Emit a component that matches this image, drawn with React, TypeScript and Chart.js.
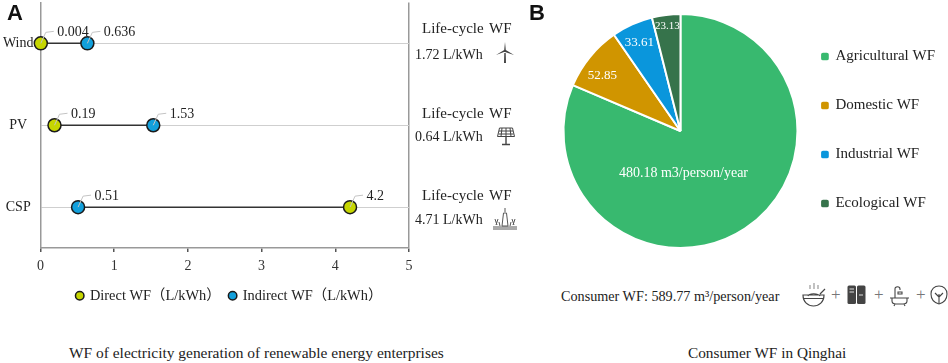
import React, { useEffect, useRef } from "react";
import { Chart, registerables } from "chart.js";

Chart.register(...registerables);

const SERIF = '"Liberation Serif", serif';

const energyTypes = ["Wind", "PV", "CSP"];
const directWF = [0.004, 0.19, 4.2];
const indirectWF = [0.636, 1.53, 0.51];
const xTicks = [0, 1, 2, 3, 4, 5];

const lifeCycleValues = ["1.72 L/kWh", "0.64 L/kWh", "4.71 L/kWh"];

const consumerCategories = ["Agricultural WF", "Domestic WF", "Industrial WF", "Ecological WF"];
const consumerValues = [480.18, 52.85, 33.61, 23.13];
const consumerLabels = ["480.18 m3/person/year", "52.85", "33.61", "23.13"];
const consumerColors = ["#38B96F", "#D09500", "#0A96DC", "#36734B"];

const labelPlacement = [
  { dx: 3, dy: 42, size: 14 },
  { dx: -78, dy: -55, size: 13 },
  { dx: -41, dy: -88, size: 13 },
  { dx: -13, dy: -105, size: 11 },
];

const dumbbellLabels = {
  id: "dumbbellLabels",
  afterDatasetsDraw(chart: any) {
    const { ctx, scales } = chart;
    const draw = (value: number, cat: string) => {
      const px = scales.x.getPixelForValue(value);
      const py = scales.y.getPixelForValue(energyTypes.indexOf(cat));
      ctx.save();
      ctx.strokeStyle = "#c4c4c4";
      ctx.lineWidth = 1;
      ctx.beginPath();
      ctx.moveTo(px, py);
      ctx.lineTo(px + 5, py - 11);
      ctx.lineTo(px + 13, py - 12);
      ctx.stroke();
      ctx.fillStyle = "#222";
      ctx.font = `14px ${SERIF}`;
      ctx.textBaseline = "middle";
      ctx.fillText(String(value), px + 16.5, py - 11);
      ctx.restore();
    };
    energyTypes.forEach((c, i) => {
      draw(directWF[i], c);
      draw(indirectWF[i], c);
    });
  },
};

const pieLabels = {
  id: "pieLabels",
  afterDatasetsDraw(chart: any) {
    const { ctx } = chart;
    const arcs = chart.getDatasetMeta(0).data;
    arcs.forEach((arc: any, i: number) => {
      const p = labelPlacement[i];
      ctx.save();
      ctx.fillStyle = "#fff";
      ctx.font = `${p.size}px ${SERIF}`;
      ctx.textAlign = "center";
      ctx.textBaseline = "middle";
      ctx.fillText(consumerLabels[i], arc.x + p.dx, arc.y + p.dy);
      ctx.restore();
    });
  },
};

const legendNudgeB = {
  id: "legendNudgeB",
  afterLayout(chart: any) {
    chart.legend.top -= 1;
    chart.legend.bottom -= 1;
  },
};

const legendNudgeA = {
  id: "legendNudgeA",
  afterLayout(chart: any) {
    chart.legend.left += 25;
    chart.legend.right += 25;
  },
};

const txt = (left: number, top: number, s: React.ReactNode, size = 15, extra: React.CSSProperties = {}) => (
  <div
    style={{
      position: "absolute",
      left,
      top,
      fontFamily: SERIF,
      fontSize: size,
      lineHeight: "18px",
      color: "#222",
      whiteSpace: "nowrap",
      ...extra,
    }}
  >
    {s}
  </div>
);

const Turbine = ({ x, y }: { x: number; y: number }) => (
  <svg style={{ position: "absolute", left: x, top: y }} width="20" height="24" viewBox="0 0 20 24">
    <path d="M10 0 L10.8 8 L19 13 L10 10 L9 10 L1 13 L9.2 8 Z" fill="#444" />
    <path d="M9.3 11 H10.7 L11 21 H9 Z" fill="#444" />
  </svg>
);

const Panel = ({ x, y }: { x: number; y: number }) => (
  <svg style={{ position: "absolute", left: x, top: y }} width="20" height="20" viewBox="0 0 20 20" fill="none" stroke="#444">
    <path d="M3.5 1 H16.5 L18.5 9.5 H1.5 Z" />
    <path d="M6 1 L5 9.5 M10 1 V9.5 M14 1 L15 9.5 M3 4 H17 M2.5 7 H17.5" />
    <path d="M10 10 V17 M6 17.5 H14" strokeWidth="1.4" />
  </svg>
);

const Tower = ({ x, y }: { x: number; y: number }) => (
  <svg style={{ position: "absolute", left: x, top: y }} width="24" height="22" viewBox="0 0 24 22" fill="none" stroke="#555">
    <path d="M12 0 V4 M10.5 5 H13.5 L15 18 H9 Z" />
    <path d="M0 19 H24 M0 21 H24" />
    <path d="M2 11 L4 17 M5 11 L3 17 M19 11 L21 17 M22 11 L20 17 M6 14 L7 18 M18 14 L17 18" />
  </svg>
);

const Bowl = ({ x, y }: { x: number; y: number }) => (
  <svg style={{ position: "absolute", left: x, top: y }} width="24" height="28" viewBox="0 0 24 28" fill="none" stroke="#444" strokeWidth="1.2">
    <path d="M1 14 H22 C22 21 17 25 11.5 25 C6 25 1 21 1 14 Z M6 15 C7 12 16 12 18 15 M1.5 17.5 H21.5 M18 13 L23 8" />
    <path d="M8 4 V8 M12 2 V8 M16 4 V8" stroke="#999" />
  </svg>
);

const Fridge = ({ x, y }: { x: number; y: number }) => (
  <svg style={{ position: "absolute", left: x, top: y }} width="20" height="20" viewBox="0 0 20 20">
    <rect x="0.5" y="0.5" width="8.5" height="18.5" rx="1.5" fill="#444" />
    <rect x="10" y="0.5" width="8.5" height="18.5" rx="1.5" fill="#444" />
    <path d="M2.5 4 H7 M2.5 7 H7 M12 10 H16" stroke="#ddd" />
  </svg>
);

const Tub = ({ x, y }: { x: number; y: number }) => (
  <svg style={{ position: "absolute", left: x, top: y }} width="20" height="22" viewBox="0 0 20 22" fill="none" stroke="#444" strokeWidth="1.1">
    <path d="M0 13 H19 M2 13 V16 C2 18 4 19 6 19 H13 C15 19 17 18 17 16 V13 M5 19 L4 21 M14 19 L15 21" />
    <path d="M5 13 V4 C5 1 10 1 10 4 V5 M8 7 H12 V9 H8 Z" />
  </svg>
);

const Tree = ({ x, y }: { x: number; y: number }) => (
  <svg style={{ position: "absolute", left: x, top: y }} width="18" height="20" viewBox="0 0 18 20" fill="none" stroke="#444" strokeWidth="1.1">
    <path d="M9 19 C2 17 1 12 1 9 C1 4 4.5 1 9 1 C13.5 1 17 4 17 9 C17 12 16 17 9 19" />
    <path d="M9 19 V9 M9 12 L5 8 M9 12 L13 8" />
  </svg>
);

export default function App() {
  const aRef = useRef<HTMLCanvasElement>(null);
  const bRef = useRef<HTMLCanvasElement>(null);

  useEffect(() => {
    const connectors = energyTypes.map((c, i) => ({
      type: "line" as const,
      label: "connector",
      data: [
        { x: directWF[i], y: c },
        { x: indirectWF[i], y: c },
      ],
      borderColor: "#333",
      borderWidth: 1.5,
      pointRadius: 0,
      order: 3,
    }));
    const dots = (label: string, values: number[], color: string) => ({
      type: "line" as const,
      label,
      data: energyTypes.map((c, i) => ({ x: values[i], y: c })),
      showLine: false,
      backgroundColor: color,
      borderColor: "#1a1a1a",
      pointBackgroundColor: color,
      pointBorderColor: "#1a1a1a",
      pointBorderWidth: 1.5,
      pointRadius: 6.5,
      order: 1,
      clip: false as any,
    });

    const a = new Chart(aRef.current!, {
      type: "line",
      data: {
        datasets: [
          ...connectors,
          dots("Direct WF（L/kWh）", directWF, "#C6D600"),
          dots("Indirect WF（L/kWh）", indirectWF, "#12A0DC"),
        ] as any,
      },
      plugins: [dumbbellLabels, legendNudgeA],
      options: {
        animation: false,
        responsive: false,
        layout: { autoPadding: false, padding: { left: 0, right: 41, top: 0, bottom: 0 } },
        scales: {
          x: {
            type: "linear",
            min: 0,
            max: 5,
            afterBuildTicks: (s: any) => {
              s.ticks = xTicks.map((value) => ({ value }));
            },
            afterFit: (s: any) => {
              s.height = 31.5;
            },
            ticks: { color: "#333", font: { family: SERIF, size: 14 }, padding: 6 },
            border: { color: "#999", width: 1.5 },
            grid: {
              color: (c: any) => (c.tick && c.tick.value === 5 ? "#999" : "transparent"),
              tickColor: "#555",
              tickLength: 4,
              lineWidth: 1.5,
            },
          },
          y: {
            type: "category",
            labels: energyTypes,
            offset: true,
            afterFit: (s: any) => {
              s.width = 40.5;
            },
            ticks: { color: "#222", font: { family: SERIF, size: 14 }, padding: 7, crossAlign: "center" },
            border: { color: "#999", width: 1.5 },
            grid: { color: "#cfcfcf", lineWidth: 1, tickLength: 0 },
          },
        },
        plugins: {
          tooltip: { enabled: false },
          legend: {
            position: "bottom",
            labels: {
              usePointStyle: true,
              boxWidth: 6,
              boxHeight: 6,
              padding: 9,
              color: "#222",
              font: { family: `${SERIF}, "Noto Sans CJK SC"`, size: 14.4 },
              filter: (item: any) => item.text !== "connector",
            },
          },
        },
      },
    });

    const b = new Chart(bRef.current!, {
      type: "pie",
      data: {
        labels: consumerCategories,
        datasets: [
          {
            data: consumerValues,
            backgroundColor: consumerColors,
            borderColor: "#fff",
            borderWidth: 2,
            radius: 117,
            clip: false as any,
          },
        ],
      },
      plugins: [pieLabels, legendNudgeB],
      options: {
        animation: false,
        responsive: false,
        layout: { padding: { left: 43 } },
        plugins: {
          tooltip: { enabled: false },
          legend: {
            position: "right",
            labels: {
              usePointStyle: true,
              pointStyle: "rectRounded",
              boxWidth: 6,
              boxHeight: 8,
              padding: 34,
              color: "#222",
              font: { family: SERIF, size: 15 },
            },
          },
        },
      },
    });

    return () => {
      a.destroy();
      b.destroy();
    };
  }, []);

  const plus = { color: "#777" };

  return (
    <div style={{ position: "absolute", left: 0, top: 0, width: 948, height: 363, overflow: "hidden", background: "#fff" }}>
      <canvas ref={aRef} width={450} height={326} style={{ position: "absolute", left: 0, top: -13 }} />
      <canvas ref={bRef} width={415} height={262} style={{ position: "absolute", left: 530, top: 0 }} />

      <div style={{ position: "absolute", left: 7, top: 0, font: 'bold 22px "Liberation Sans"', color: "#111" }}>A</div>
      <div style={{ position: "absolute", left: 529, top: 0, font: 'bold 22px "Liberation Sans"', color: "#111" }}>B</div>

      {lifeCycleValues.map((v, i) => {
        const tops = [19, 104, 186];
        const valueTops = [46, 128, 211];
        return (
          <React.Fragment key={v}>
            {txt(422, tops[i], "Life-cycle WF", 15, { wordSpacing: 2 })}
            {txt(415, valueTops[i], v, 14)}
          </React.Fragment>
        );
      })}
      <Turbine x={495} y={42} />
      <Panel x={496} y={127} />
      <Tower x={493} y={208} />

      {txt(69, 344, "WF of electricity generation of renewable energy enterprises", 15.45)}
      {txt(688, 344, "Consumer WF in Qinghai", 15.3)}
      {txt(561, 287, "Consumer WF: 589.77 m³/person/year", 14.2)}

      <Bowl x={802} y={281} />
      {txt(831, 286, "+", 17, plus)}
      <Fridge x={847} y={285} />
      {txt(874, 286, "+", 17, plus)}
      <Tub x={890} y={285} />
      {txt(916, 286, "+", 17, plus)}
      <Tree x={930} y={285} />
    </div>
  );
}
